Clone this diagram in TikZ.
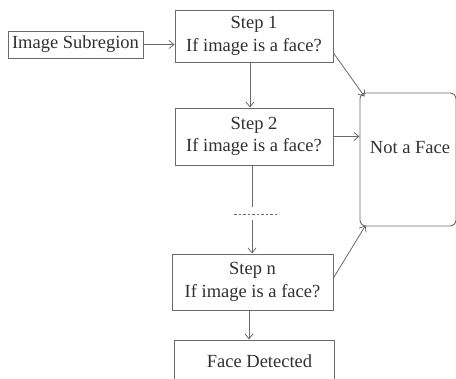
\documentclass[tikz,border=0pt]{standalone}
\usepackage{fontspec}
\setmainfont{Liberation Serif}
\usetikzlibrary{arrows.meta,calc}
\definecolor{linec}{HTML}{6A6A6A}
\definecolor{textc}{HTML}{303030}
\begin{document}
\begin{tikzpicture}[x=1pt,y=-1pt,
  txt/.style={text=textc, font=\fontsize{18.5}{22.5}\selectfont, align=center, inner sep=0pt},
  box/.style={txt, draw=linec, line width=0.9pt},
  arr/.style={draw=linec, line width=0.8pt, -{Straight Barb[length=5pt,width=8pt]}},
  ln/.style={draw=linec, line width=0.8pt}]
\useasboundingbox (0,0) rectangle (456,379);
\clip (0,0) rectangle (456,379);
\node[box, minimum width=135, minimum height=27] (sub) at (75.5,44.5) {Image Subregion};
\node[box, minimum width=158, minimum height=52] (s1) at (254,36) {Step 1\\If image is a face?};
\node[box, minimum width=158, minimum height=57] (s2) at (254,136.5) {Step 2\\If image is a face?};
\node[box, minimum width=161, minimum height=56] (sn) at (252.5,282) {Step n\\If image is a face?};
\node[box, minimum width=160, minimum height=42] (fd) at (254,361) {\hspace*{11pt}Face Detected};
\node[draw=linec, line width=0.9pt, rounded corners=6pt, minimum width=96, minimum height=133, inner sep=0pt] (naf) at (408,159.5) {};
\node[txt] (naft) at (410,148) {Not a Face};
\coordinate (dtop) at (252,207);
\coordinate (dbot) at (252,220);
\coordinate (dl) at (234,214);
\coordinate (dr) at (279,214);
\draw[arr] (sub.east) -- (sub.east -| s1.west);
\draw[arr] ($(s1.south)+(-4,0)$) -- ($(s2.north)+(-4,0)$);
\draw[arr] ($(s1.east)+(0,17)$) -- ($(naf.north west)+(5,4)$);
\draw[arr] (s2.east) -- (s2.east -| naf.west);
\draw[ln] ($(s2.south)+(-2,0)$) -- (dtop);
\draw[draw=linec, line width=0.8pt, dash pattern=on 2.5pt off 2pt] (dl) -- (dr);
\draw[arr] (dbot) -- (dbot |- sn.north);
\draw[arr] ($(sn.south)+(-3.5,0)$) -- ($(fd.north)+(-5,0)$);
\draw[arr] ($(sn.east)+(0,-4)$) -- ($(naf.south west)+(6,-1)$);
\end{tikzpicture}
\end{document}
